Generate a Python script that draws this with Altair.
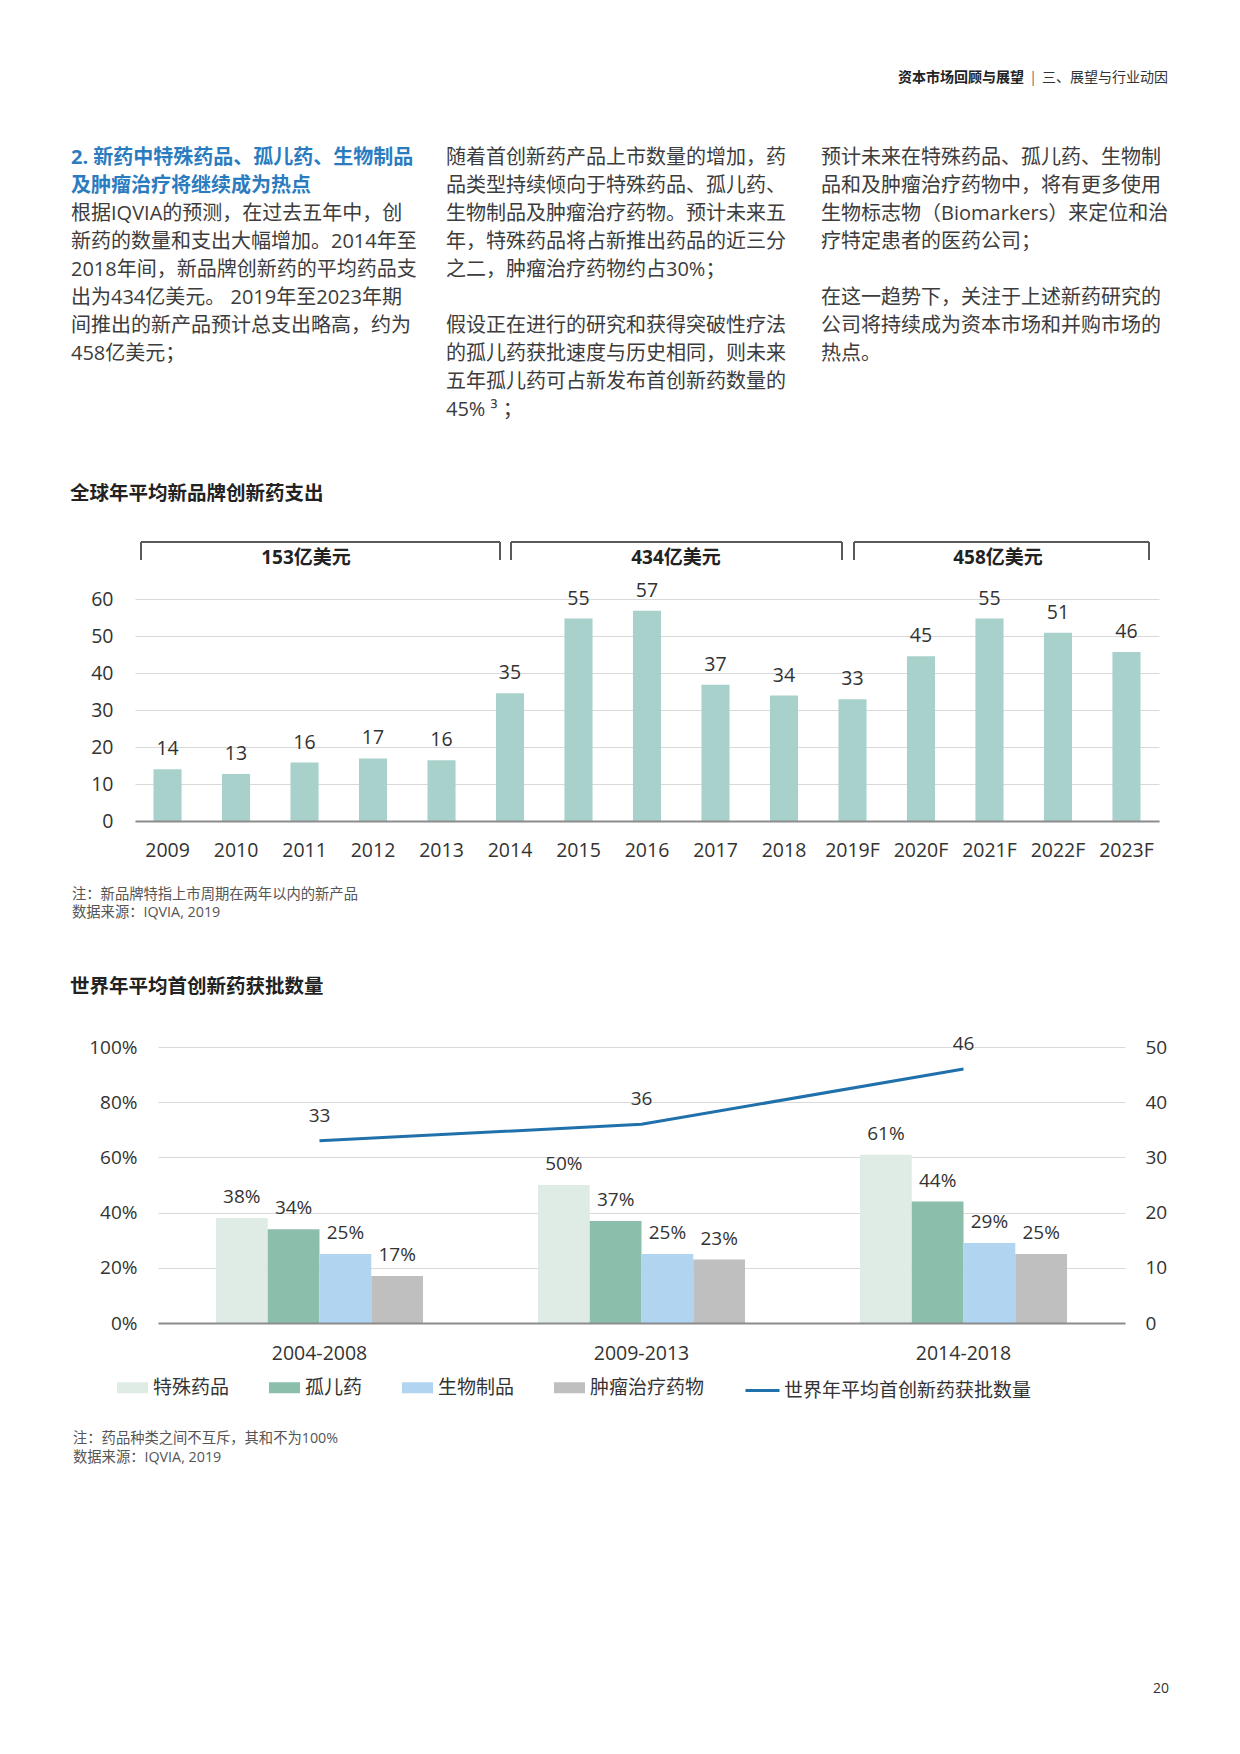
import altair as alt
import pandas as pd

FONT = "'Open Sans', 'Noto Sans CJK SC', sans-serif"
TXT = "#3c3c3c"
AX = "#333333"
NOTE = "#555555"

# ---------------- page text ----------------
header_bold = "资本市场回顾与展望"
header_sep = "|"
header_normal = "三、展望与行业动因"
col1_heading = ["2. 新药中特殊药品、孤儿药、生物制品", "及肿瘤治疗将继续成为热点"]
col1_body = [
    "根据IQVIA的预测，在过去五年中，创",
    "新药的数量和支出大幅增加。2014年至",
    "2018年间，新品牌创新药的平均药品支",
    "出为434亿美元。 2019年至2023年期",
    "间推出的新产品预计总支出略高，约为",
    "458亿美元；",
]
col2_par1 = [
    "随着首创新药产品上市数量的增加，药",
    "品类型持续倾向于特殊药品、孤儿药、",
    "生物制品及肿瘤治疗药物。预计未来五",
    "年，特殊药品将占新推出药品的近三分",
    "之二，肿瘤治疗药物约占30%；",
]
col2_par2 = [
    "假设正在进行的研究和获得突破性疗法",
    "的孤儿药获批速度与历史相同，则未来",
    "五年孤儿药可占新发布首创新药数量的",
    "45% ³ ；",
]
col3_par1 = [
    "预计未来在特殊药品、孤儿药、生物制",
    "品和及肿瘤治疗药物中，将有更多使用",
    "生物标志物（Biomarkers）来定位和治",
    "疗特定患者的医药公司；",
]
col3_par2 = [
    "在这一趋势下，关注于上述新药研究的",
    "公司将持续成为资本市场和并购市场的",
    "热点。",
]
page_number = "20"

# ---------------- chart 1 ----------------
chart1_title = "全球年平均新品牌创新药支出"
years = ["2009", "2010", "2011", "2012", "2013", "2014", "2015", "2016",
         "2017", "2018", "2019F", "2020F", "2021F", "2022F", "2023F"]
spend = [14.0, 12.7, 15.8, 16.9, 16.4, 34.5, 54.7, 56.8, 36.8, 33.9, 32.9, 44.5, 54.7, 50.9, 45.7]
spend_labels = ["14", "13", "16", "17", "16", "35", "55", "57", "37", "34", "33", "45", "55", "51", "46"]
bracket_labels = ["153亿美元", "434亿美元", "458亿美元"]
chart1_notes = ["注：新品牌特指上市周期在两年以内的新产品", "数据来源：IQVIA, 2019"]

# ---------------- chart 2 ----------------
chart2_title = "世界年平均首创新药获批数量"
periods = ["2004-2008", "2009-2013", "2014-2018"]
categories = ["特殊药品", "孤儿药", "生物制品", "肿瘤治疗药物"]
share_special = [38, 50, 61]
share_orphan = [34, 37, 44]
share_bio = [25, 25, 29]
share_onco = [17, 23, 25]
approvals = [33, 36, 46]
line_name = "世界年平均首创新药获批数量"
cat_colors = ["#dfebe5", "#8bbfab", "#b1d4f0", "#bfbfbf"]
line_color = "#2070ac"
chart2_notes = ["注：药品种类之间不互斥，其和不为100%", "数据来源：IQVIA, 2019"]

# ---------------- tables ----------------
one = pd.DataFrame({"k": [0]})
df1 = pd.DataFrame({"year": years, "value": spend, "label": spend_labels})
rows = []
for series, cat in zip([share_special, share_orphan, share_bio, share_onco], categories):
    for p, v in zip(periods, series):
        rows.append({"period": p, "category": cat, "share": v, "label": f"{v}%"})
df2 = pd.DataFrame(rows)
df3 = pd.DataFrame({"period": periods, "count": approvals, "name": line_name})

LH = 28


def txt(x, y, text, size=20, weight="normal", color=TXT, align="left", baseline="middle"):
    return alt.Chart(one).mark_text(
        text=text, fontSize=size, fontWeight=weight, color=color, align=align,
        baseline=baseline, font=FONT, lineHeight=LH,
    ).encode(x=alt.value(x), y=alt.value(y))


def spacer(x, y0, y1):
    return alt.Chart(one).mark_rule(color="#ffffff", strokeWidth=1).encode(
        x=alt.value(x), y=alt.value(y0), y2=alt.value(y1))


def rule(**enc):
    return alt.Chart(one).mark_rule(color="#595959", strokeWidth=2).encode(
        **{k: alt.value(v) for k, v in enc.items()})


# ---------------- section: text (origin at page x=134, y=8) ----------------
first = 148.5
T = alt.layer(
    spacer(0, 0, 4),
    txt(889, 69, header_bold, size=14, weight="bold", color="#222", align="right"),
    txt(898, 69, header_sep, size=14, color="#666", align="center"),
    txt(1033, 69, header_normal, size=14, color="#333", align="right"),
    txt(-64, first, col1_heading, weight="bold", color="#2b7bbf"),
    txt(-64, first + 2 * LH, col1_body),
    txt(311, first, col2_par1),
    txt(311, first + 6 * LH, col2_par2),
    txt(686, first, col3_par1),
    txt(686, first + 5 * LH, col3_par2),
).properties(width=1034, height=590)

# ---------------- section: chart 1 (plot origin at page 134, 598) ----------------
x1 = alt.X("year:N", sort=years, title=None,
           scale=alt.Scale(paddingInner=0.59, paddingOuter=0.27),
           axis=alt.Axis(labelAngle=0, ticks=False, domainColor="#8c8c8c", domainWidth=2,
                         labelPadding=20, grid=False, zindex=1))
y1 = alt.Y("value:Q", title=None, scale=alt.Scale(domain=[0, 60], nice=False),
           axis=alt.Axis(values=[0, 10, 20, 30, 40, 50, 60], grid=True,
                         gridColor="#d9d9d9", domain=False, ticks=False, labelPadding=22,
                         labelOverlap=False))
bars1 = alt.Chart(df1).mark_bar(color="#a8d1cb").encode(x=x1, y=y1)
lab1 = alt.Chart(df1).mark_text(baseline="middle", dy=-20, fontSize=19.5, color=AX, font=FONT).encode(
    x=x1, y=y1, text="label:N")

bracket_px = [(6, 365), (376, 707), (719, 1014)]
bracket_label_x = [171, 541, 863]
br_top, br_bot = -57, -39
c1_layers = [spacer(-66, 0, 4), txt(-65, -105, chart1_title, size=19.5, weight="bold", color="#222")]
for (a, b), lx, lab in zip(bracket_px, bracket_label_x, bracket_labels):
    c1_layers += [
        rule(x=a, x2=b, y=br_top),
        rule(x=a, y=br_top, y2=br_bot),
        rule(x=b, y=br_top, y2=br_bot),
        txt(lx, -41, lab, size=19, weight="bold", color="#222", align="center"),
    ]
c1_layers += [bars1, lab1,
              txt(-63, 296, chart1_notes[0], size=14.3, color=NOTE),
              txt(-63, 314, chart1_notes[1], size=14.3, color=NOTE)]
C1 = alt.layer(*c1_layers).properties(width=1024, height=222)

# blank band between the two charts
S = alt.Chart(one).mark_rule(color="#ffffff", opacity=0).encode(
    x=alt.value(0), y=alt.value(0), y2=alt.value(1)).properties(width=1024, height=226)

# ---------------- section: chart 2 (plot origin at page 157, 1046) ----------------
x2 = alt.X("period:N", sort=periods, title=None,
           scale=alt.Scale(paddingInner=0.357, paddingOuter=0.18),
           axis=alt.Axis(labelAngle=0, ticks=False, domainColor="#8c8c8c", domainWidth=2,
                         labelPadding=21, grid=False, zindex=1))
xo = alt.XOffset("category:N", sort=categories, scale=alt.Scale(paddingInner=0, paddingOuter=0))
yl = alt.Y("share:Q", title=None, scale=alt.Scale(domain=[0, 100], nice=False),
           axis=alt.Axis(values=[0, 20, 40, 60, 80, 100], labelExpr="datum.value + '%'", grid=True,
                         gridColor="#d9d9d9", domain=False, ticks=False, labelPadding=21,
                         labelFontSize=19, labelOverlap=False))
bars2 = alt.Chart(df2).mark_bar().encode(
    x=x2, xOffset=xo, y=yl,
    color=alt.Color("category:N", sort=categories,
                    scale=alt.Scale(domain=categories, range=cat_colors),
                    legend=alt.Legend(title=None, orient="none", legendX=-41, legendY=325,
                                      direction="horizontal",
                                      symbolType="M-1,-0.355H1V0.355H-1Z", symbolSize=961,
                                      symbolStrokeWidth=0, symbolOpacity=1, labelOffset=5,
                                      columnPadding=39, labelFontSize=19, labelColor=AX,
                                      labelFont=FONT, labelLimit=400)))
lab2 = alt.Chart(df2).mark_text(baseline="middle", dy=-21, fontSize=19, color=AX, font=FONT).encode(
    x=x2, xOffset=xo, y=yl, text="label:N")
yr = alt.Y("count:Q", title=None, scale=alt.Scale(domain=[0, 50], nice=False),
           axis=alt.Axis(orient="right", values=[0, 10, 20, 30, 40, 50], grid=False, domain=False,
                         ticks=False, labelPadding=20, labelFontSize=19, labelOverlap=False))
line = alt.Chart(df3).mark_line(strokeWidth=3).encode(
    x=x2, y=yr,
    stroke=alt.Stroke("name:N", scale=alt.Scale(domain=[line_name], range=[line_color]),
                      legend=alt.Legend(title=None, orient="none", legendX=586, legendY=325,
                                        symbolType="stroke", symbolSize=1156, symbolStrokeWidth=3,
                                        labelOffset=3, labelFontSize=19, labelColor=AX,
                                        labelFont=FONT, labelLimit=400)))
lab3 = alt.Chart(df3).mark_text(baseline="middle", dy=-25, fontSize=19, color=AX, font=FONT).encode(
    x=x2, y=yr, text="count:Q")

C2 = alt.layer(
    alt.layer(bars2, lab2),
    alt.layer(line, lab3),
    txt(-88, -60, chart2_title, size=19.5, weight="bold", color="#222"),
    txt(-85, 392, chart2_notes[0], size=14.3, color=NOTE),
    txt(-85, 411, chart2_notes[1], size=14.3, color=NOTE),
    txt(1011, 642, page_number, size=14, color=AX, align="right"),
).resolve_scale(y="independent").properties(width=967, height=276)

E = alt.Chart(one).mark_rule(color="#ffffff", opacity=0).encode(
    x=alt.value(0), y=alt.value(0), y2=alt.value(1)).properties(width=23, height=276)

row2 = alt.hconcat(E, C2, spacing=0, bounds="flush").resolve_legend(
    color="independent", stroke="independent")

chart = alt.vconcat(T, C1, S, row2, spacing=0, bounds="flush").resolve_legend(
    color="independent", stroke="independent"
).properties(
    padding={"left": 60, "top": 0, "right": 8, "bottom": 0}
).configure_view(stroke=None).configure_axis(
    labelFont=FONT, labelFontSize=19.5, labelColor=AX
).configure_legend(padding=0)

chart.save("out.html", embed_options={"renderer": "svg", "actions": False})
